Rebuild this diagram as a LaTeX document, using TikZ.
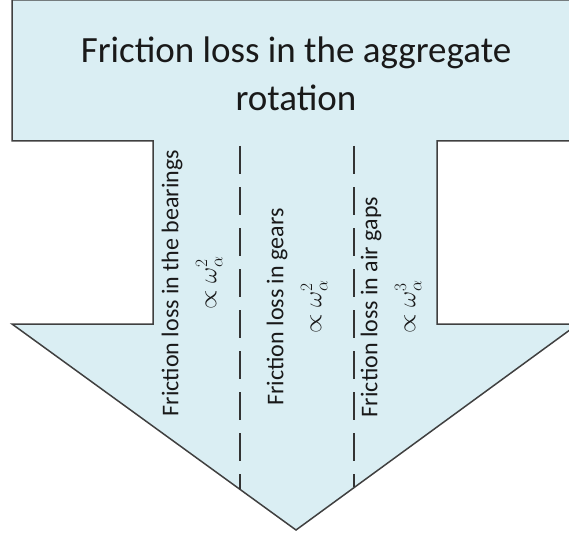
\documentclass[tikz,border=0pt]{standalone}
\usepackage{fontspec}
\setmainfont{Carlito}
\begin{document}
\begin{tikzpicture}[x=1pt,y=-1pt,
  arrowshape/.style={draw=black!75, line width=1.5pt, fill=arrowfill, line join=miter},
  divider/.style={draw=black!80, line width=1.5pt, dash pattern=on 28pt off 13pt},
  titletext/.style={align=center, font=\fontsize{37}{48}\selectfont, text=black!90},
  losstext/.style={align=center, rotate=90, font=\fontsize{24}{38}\selectfont, text=black!90}]
\definecolor{arrowfill}{HTML}{DAEEF3}
\useasboundingbox (0,0) rectangle (569,540);
\clip (0,0) rectangle (569,540);
\draw[arrowshape] (12,0) -- (578,0) -- (578,141) -- (437,141) -- (437,324) -- (578,324)
  -- (296,530) -- (12,324) -- (153,324) -- (153,141) -- (12,141) -- cycle;
\coordinate (d1top) at (240,146);
\coordinate (d1bot) at (240,489);
\coordinate (d2top) at (354,146);
\coordinate (d2bot) at (354,487);
\draw[divider] (d1top) -- (d1bot);
\draw[divider] (d2top) -- (d2bot);
\node[titletext] (title) at (296,74) {Friction loss in the aggregate\\rotation};
\node[losstext] (bearings) at (192,283) {Friction loss in the bearings\\$\propto\omega_\alpha^2$};
\node[losstext] (gears) at (297,307) {Friction loss in gears\\$\propto\omega_\alpha^2$};
\node[losstext] (airgaps) at (391,307) {Friction loss in air gaps\\$\propto\omega_\alpha^3$};
\end{tikzpicture}
\end{document}
